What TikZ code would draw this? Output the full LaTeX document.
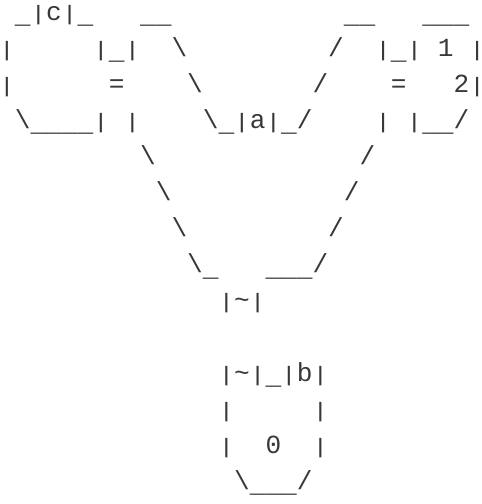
\documentclass[tikz,border=0pt]{standalone}
\usepackage{fontspec}
\usepackage{graphicx}
\newfontfamily\asciifont{Liberation Mono}
\newcommand\bs{\textbackslash}
\newcommand\tl{\textasciitilde}
\newcommand\us{\raisebox{-3.5pt}{\_}}
\newcommand\pp{\scalebox{1}[0.8]{|}}
\tikzset{
  txt/.style={inner sep=0pt, outer sep=0pt, anchor=base west,
    text=black!78, font=\asciifont\fontsize{26.11pt}{30pt}\selectfont},
  edgechar/.style={txt, anchor=base}
}
\begin{document}
\begin{tikzpicture}[x=15.67pt,y=-36.1pt]
\useasboundingbox (0pt,0pt) rectangle (482pt,-504pt);
\begin{scope}[shift={(-0.83pt,-20pt)}]
% row 1
\node[txt] (r1a) at (1,0) {\us\pp c\pp\us};
\node[txt] (r1b) at (9,0) {\us\us};
\node[txt] (r1c) at (22,0) {\us\us};
\node[txt] (r1d) at (27,0) {\us\us\us};
% row 2
\node[txt] (r2a) at (0,1) {\pp};
\node[txt] (r2b) at (6,1) {\pp\us\pp};
\node[txt] (r2c) at (11,1) {\bs};
\node[txt] (r2d) at (21,1) {/};
\node[txt] (r2e) at (24,1) {\pp\us\pp};
\node[txt] (r2f) at (28,1) {1};
\node[edgechar] (r2g) at (30.5,1) {\makebox[0pt]{\pp}};
% row 3
\node[txt] (r3a) at (0,2) {\pp};
\node[txt] (r3b) at (7,2) {=};
\node[txt] (r3c) at (12,2) {\bs};
\node[txt] (r3d) at (20,2) {/};
\node[txt] (r3e) at (25,2) {=};
\node[txt] (r3f) at (29,2) {2};
\node[edgechar] (r3g) at (30.5,2) {\makebox[0pt]{\pp}};
% row 4
\node[txt] (r4a) at (1,3) {\bs\us\us\us\us\pp};
\node[txt] (r4b) at (8,3) {\pp};
\node[txt] (r4c) at (13,3) {\bs\us\pp a\pp\us/};
\node[txt] (r4d) at (24,3) {\pp};
\node[txt] (r4e) at (26,3) {\pp\us\us/};
% rows 5-7
\node[txt] (r5a) at (9,4) {\bs};
\node[txt] (r5b) at (23,4) {/};
\node[txt] (r6a) at (10,5) {\bs};
\node[txt] (r6b) at (22,5) {/};
\node[txt] (r7a) at (11,6) {\bs};
\node[txt] (r7b) at (21,6) {/};
% row 8
\node[txt] (r8a) at (12,7) {\bs\us};
\node[txt] (r8b) at (17,7) {\us\us\us/};
% row 9
\node[txt] (r9a) at (14,8) {\pp\tl\pp};
% row 11
\node[txt] (r11a) at (14,10) {\pp\tl\pp\us\pp b\pp};
% row 12
\node[txt] (r12a) at (14,11) {\pp};
\node[txt] (r12b) at (20,11) {\pp};
% row 13
\node[txt] (r13a) at (14,12) {\pp};
\node[txt] (r13b) at (17,12) {0};
\node[txt] (r13c) at (20,12) {\pp};
% row 14
\node[txt] (r14a) at (15,13) {\bs\us\us\us/};
\end{scope}
\end{tikzpicture}
\end{document}
